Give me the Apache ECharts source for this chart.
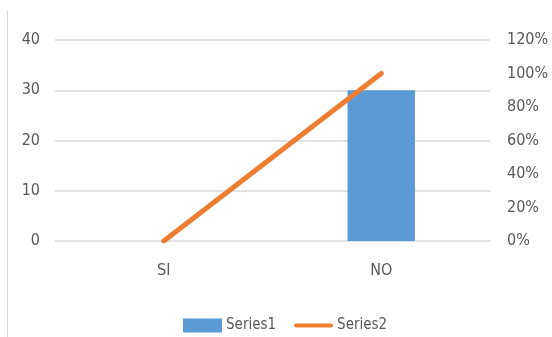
<!DOCTYPE html>
<html>
<head>
<meta charset="utf-8">
<script src="https://cdn.jsdelivr.net/npm/echarts@6/dist/echarts.min.js"></script>
<style>
  html, body { margin: 0; padding: 0; background: #fff; }
  #chart { width: 552px; height: 337px; }
</style>
</head>
<body>
<div id="chart"></div>
<script>
// Chart data
const categories = ['SI', 'NO'];
const series1Values = [0, 30];
const series2Values = [0, 1.0];   // fraction, shown as percent on the right axis

const FONT = "'DejaVu Sans Condensed', 'Liberation Sans Narrow', sans-serif";
const TEXT_COLOR = '#595959';

const chart = echarts.init(document.getElementById('chart'), null, { renderer: 'canvas' });

chart.setOption({
  animation: false,
  backgroundColor: '#ffffff',
  textStyle: { fontFamily: FONT },
  graphic: [{
    type: 'line',
    shape: { x1: 7.5, y1: 11, x2: 7.5, y2: 337 },
    style: { stroke: '#d9d9d9', lineWidth: 1 }
  }],
  grid: { left: 55, right: 62, top: 40, bottom: 96 },
  legend: {
    top: 318,
    left: 183,
    padding: 0,
    itemWidth: 39,
    itemHeight: 14,
    itemGap: 18,
    textStyle: { color: TEXT_COLOR, fontSize: 15, fontFamily: FONT, padding: [0, 0, 0, -1] },
    data: [
      { name: 'Series1', icon: 'rect' },
      { name: 'Series2', icon: 'path://M2,0 L37,0 A2,2 0 0 1 37,4 L2,4 A2,2 0 0 1 2,0 Z' }
    ]
  },
  xAxis: {
    type: 'category',
    data: categories,
    axisLine: { show: false },
    axisTick: { show: false },
    axisLabel: { color: TEXT_COLOR, fontSize: 16, margin: 22, fontFamily: FONT }
  },
  yAxis: [{
    type: 'value',
    min: 0, max: 40, interval: 10,
    axisLine: { show: false },
    axisTick: { show: false },
    splitLine: { lineStyle: { color: '#d9d9d9', width: 1.5 } },
    axisLabel: { color: TEXT_COLOR, fontSize: 16, margin: 15, fontFamily: FONT }
  }, {
    type: 'value',
    min: 0, max: 1.2, interval: 0.2,
    position: 'right',
    axisLine: { show: false },
    axisTick: { show: false },
    splitLine: { show: false },
    axisLabel: {
      color: TEXT_COLOR, fontSize: 16, margin: 17, fontFamily: FONT,
      formatter: v => Math.round(v * 100) + '%'
    }
  }],
  series: [{
    name: 'Series1',
    type: 'bar',
    data: series1Values,
    barWidth: '31%',
    itemStyle: { color: '#5b9bd5' }
  }, {
    name: 'Series2',
    type: 'line',
    yAxisIndex: 1,
    data: series2Values,
    symbol: 'none',
    lineStyle: { color: '#ed7d31', width: 5, cap: 'round' },
    itemStyle: { color: '#ed7d31' }
  }]
});
</script>
</body>
</html>
